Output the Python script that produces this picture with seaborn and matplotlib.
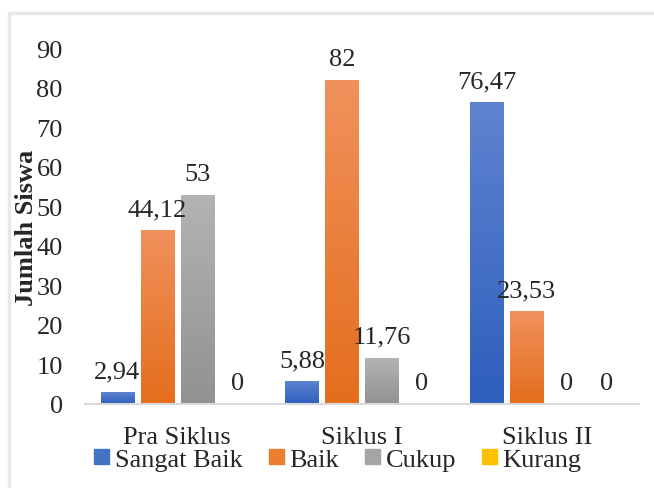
import matplotlib
matplotlib.use("Agg")
import matplotlib.pyplot as plt
import seaborn as sns
import numpy as np
import pandas as pd
from matplotlib.patches import Rectangle
from matplotlib.colors import LinearSegmentedColormap

# data
categories = ["Pra Siklus", "Siklus I", "Siklus II"]
levels = ["Sangat Baik", "Baik", "Cukup", "Kurang"]
sangat_baik = [2.94, 5.88, 76.47]
baik = [44.12, 82, 23.53]
cukup = [53, 11.76, 0]
kurang = [0, 0, 0]
y_ticks = [0, 10, 20, 30, 40, 50, 60, 70, 80, 90]

colors = ["#4472C4", "#ED7D31", "#A5A5A5", "#FFC000"]
# (bottom, top) colours for the Excel-style gradient fill
grads = [("#2e5fbd", "#5f83d0"), ("#e46e1c", "#f0915c"),
         ("#929292", "#b3b3b3"), ("#f2b800", "#ffd040")]

rows = []
for lvl, vals in zip(levels, [sangat_baik, baik, cukup, kurang]):
    for cat, v in zip(categories, vals):
        rows.append({"Siklus": cat, "Kategori": lvl, "Jumlah": v})
df = pd.DataFrame(rows)

sns.set_theme(style="white")
plt.rcParams["font.family"] = ["Liberation Serif", "DejaVu Serif"]

fig = plt.figure(figsize=(6.54, 4.89), dpi=100)
ax = fig.add_axes([85 / 654, 84 / 489, 554 / 654, 355.5 / 489])

sns.barplot(data=df, x="Siklus", y="Jumlah", hue="Kategori",
            order=categories, hue_order=levels, palette=colors,
            width=0.866, gap=0.17, ax=ax, legend=False, saturation=1)

# gradient fill on each bar, plus value labels with comma decimals
ramp = np.linspace(1, 0, 64).reshape(-1, 1)
for cont, (c0, c1) in zip(ax.containers, grads):
    cmap = LinearSegmentedColormap.from_list("g", [c0, c1])
    for b in cont:
        h = b.get_height()
        if h <= 0:
            continue
        x0 = b.get_x()
        im = ax.imshow(ramp, cmap=cmap, vmin=0, vmax=1, aspect="auto",
                       extent=[x0, x0 + b.get_width(), 0, h], zorder=b.get_zorder() + 0.1)
        im.set_clip_path(b)
    labels = [f"{b.get_height():g}".replace(".", ",") for b in cont]
    ax.bar_label(cont, labels=labels, padding=7, fontsize=19, clip_on=False)

ax.set_ylim(0, 90)
ax.set_xlim(-0.5, 2.5)
ax.set_yticks(y_ticks)
ax.tick_params(axis="y", length=0, pad=16, labelsize=19)
ax.tick_params(axis="x", length=0, pad=16, labelsize=19)
ax.set_xlabel("")
ax.set_ylabel("")
for s in ["top", "right", "left"]:
    ax.spines[s].set_visible(False)
ax.spines["bottom"].set_color("#d9d9d9")
ax.spines["bottom"].set_linewidth(1.5)

fig.text(27 / 654, 1 - 228 / 489, "Jumlah Siswa", rotation=90, ha="center",
         va="center", fontsize=19, fontweight="bold")

handles = [Rectangle((0, 0), 1, 1, color=c) for c in colors]
fig.legend(handles, levels, loc="center", bbox_to_anchor=(338 / 654, 1 - 461 / 489),
           ncol=4, frameon=False, fontsize=19, handlelength=0.57, handleheight=0.5,
           handletextpad=0.2, columnspacing=1.0, borderpad=0)

# light chart-area border (cropped on the right and bottom)
fig.patches.append(Rectangle((8.5 / 654, -0.1), 1.2, 1.1 - 13.5 / 489,
                             transform=fig.transFigure, fill=False,
                             edgecolor="#e8e8e8", linewidth=2.5))

fig.savefig("out.png", dpi=100)
